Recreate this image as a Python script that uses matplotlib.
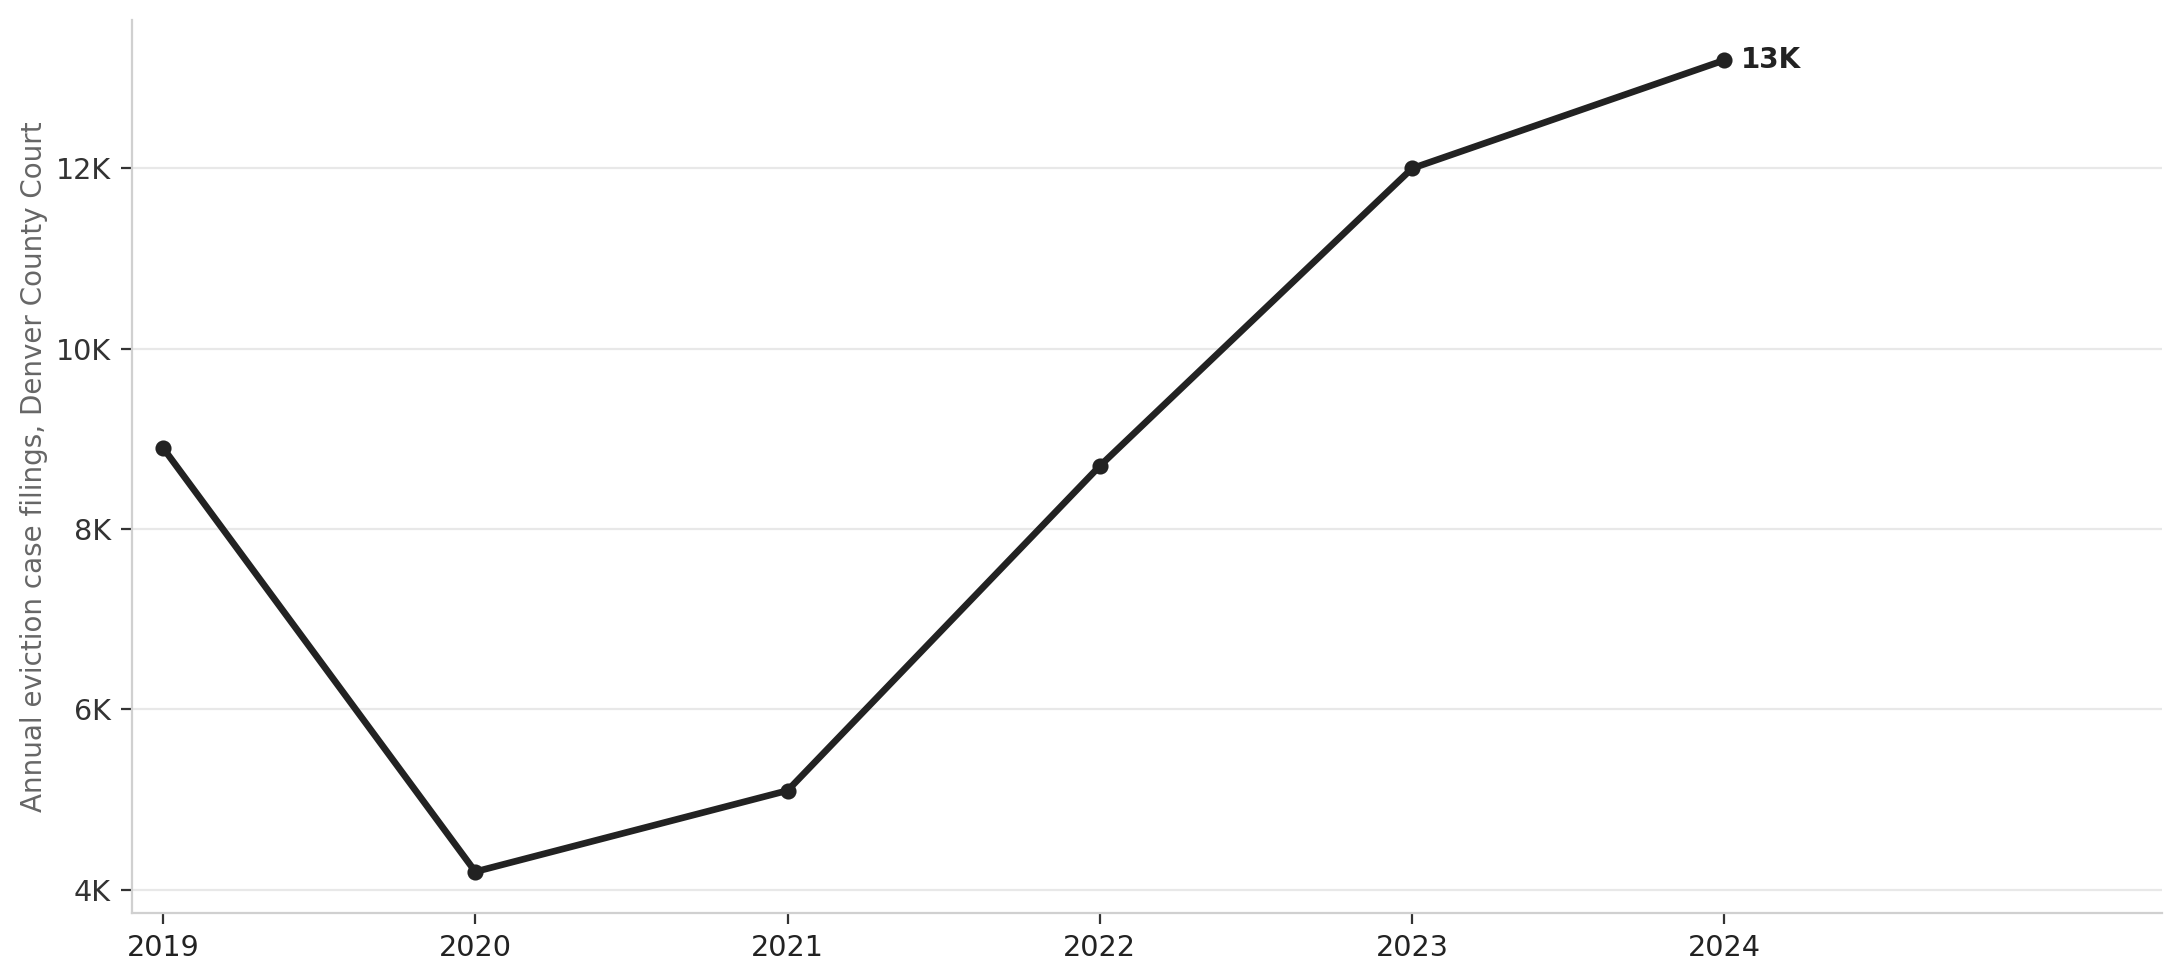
import matplotlib
matplotlib.use("Agg")
import matplotlib.pyplot as plt
from matplotlib.ticker import FuncFormatter

years = [2019, 2020, 2021, 2022, 2023, 2024]
filings = [8900, 4200, 5100, 8700, 12000, 13200]
yticks = [4000, 6000, 8000, 10000, 12000]
end_label = "13K"
ylabel = "Annual eviction case filings, Denver County Court"

plt.rcParams['font.family'] = ['DejaVu Sans']
fig = plt.figure(figsize=(2179/200, 980/200), dpi=200)
ax = fig.add_axes([0.0605, 0.068, 0.9315, 0.912])

ax.plot(years, filings, color="#222222", lw=2.4, marker="o", ms=4.8, zorder=3)
ax.annotate(end_label, (years[-1], filings[-1]), xytext=(6, 0), textcoords="offset points",
            ha="left", va="center", fontsize=10, fontweight="bold", color="#222222")

ax.set_xlim(2018.9, 2025.4)
ax.set_ylim(3738, 13650)
ax.set_xticks(years)
ax.set_yticks(yticks)
ax.yaxis.set_major_formatter(FuncFormatter(lambda v, p: f"{int(v/1000)}K"))
ax.grid(axis="y", color="#e8e8e8", lw=0.8)
ax.set_axisbelow(True)
for s in ["top", "right"]:
    ax.spines[s].set_visible(False)
for s in ["left", "bottom"]:
    ax.spines[s].set_color("#d0d0d0")
    ax.spines[s].set_linewidth(0.8)
ax.tick_params(axis="both", labelsize=10.3, colors="#333333", length=4, width=0.8)
ax.tick_params(axis="x", labelcolor="#222222")
ax.set_ylabel(ylabel, fontsize=10, color="#666666", labelpad=3)

fig.savefig("out.png", dpi=200)
